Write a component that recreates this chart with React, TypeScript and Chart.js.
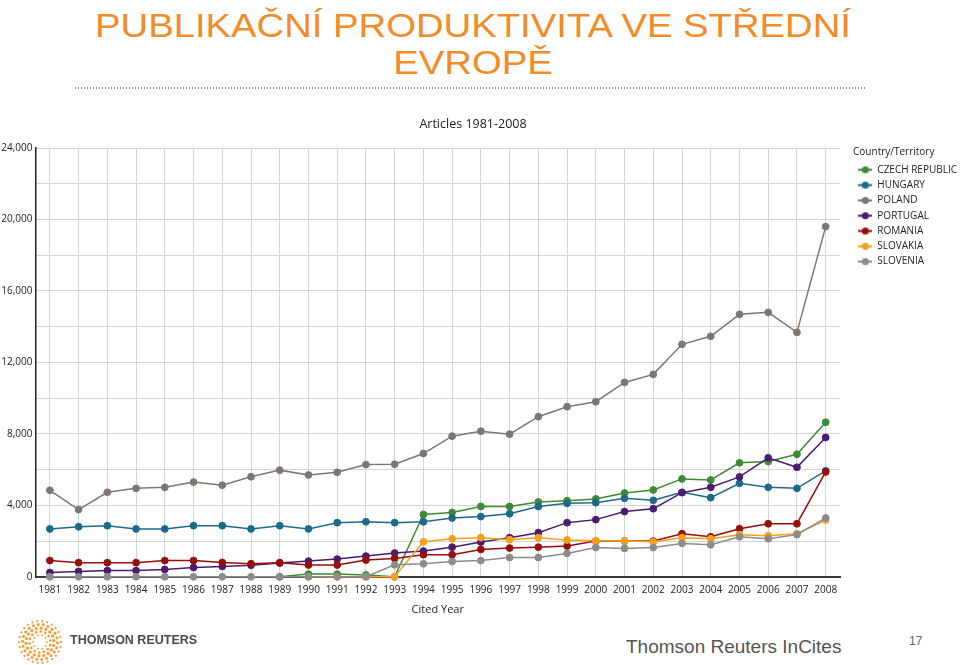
import React, { useEffect, useRef } from 'react';
import { Chart, registerables } from 'chart.js';

Chart.register(...registerables);

const YEARS = [
  '1981', '1982', '1983', '1984', '1985', '1986', '1987', '1988', '1989', '1990',
  '1991', '1992', '1993', '1994', '1995', '1996', '1997', '1998', '1999', '2000',
  '2001', '2002', '2003', '2004', '2005', '2006', '2007', '2008',
];

const CZECH_REPUBLIC = [
  null, null, null, null, null, null, null, null, 0, 150,
  150, 100, 0, 3490, 3600, 3940, 3940, 4190, 4260, 4360,
  4690, 4860, 5480, 5420, 6380, 6450, 6860, 8650,
];
const HUNGARY = [
  2680, 2800, 2860, 2680, 2680, 2860, 2860, 2680, 2860, 2680,
  3030, 3080, 3030, 3080, 3290, 3370, 3530, 3930, 4110, 4150,
  4390, 4280, 4730, 4430, 5230, 5010, 4950, 5930,
];
const POLAND = [
  4840, 3760, 4730, 4950, 5010, 5300, 5130, 5600, 5970, 5700,
  5850, 6280, 6300, 6900, 7870, 8150, 7980, 8960, 9520, 9800,
  10880, 11330, 13010, 13460, 14690, 14800, 13680, 19600,
];
const PORTUGAL = [
  240, 300, 350, 350, 410, 520, 580, 650, 770, 880,
  990, 1160, 1330, 1440, 1660, 1950, 2190, 2470, 3030, 3200,
  3650, 3810, 4710, 5010, 5590, 6660, 6130, 7800,
];
const ROMANIA = [
  910, 790, 790, 790, 910, 910, 800, 730, 790, 660,
  660, 940, 1030, 1240, 1240, 1530, 1610, 1660, 1720, 2000,
  2000, 2000, 2410, 2240, 2690, 2970, 2970, 5870,
];
const SLOVAKIA = [
  null, null, null, null, null, null, null, null, null, 0,
  0, 0, 0, 1960, 2130, 2190, 2080, 2190, 2060, 2020,
  2000, 1960, 2190, 2130, 2360, 2300, 2410, 3180,
];
const SLOVENIA = [
  0, 0, 0, 0, 0, 0, 0, 0, 0, 0,
  0, 0, 670, 730, 860, 910, 1080, 1080, 1310, 1640,
  1590, 1640, 1870, 1790, 2240, 2130, 2360, 3290,
];

const SERIES_LABELS = ['CZECH REPUBLIC', 'HUNGARY', 'POLAND', 'PORTUGAL', 'ROMANIA', 'SLOVAKIA', 'SLOVENIA'];
const SERIES_VALUES = [CZECH_REPUBLIC, HUNGARY, POLAND, PORTUGAL, ROMANIA, SLOVAKIA, SLOVENIA];
const SERIES_COLORS = ['#3d8b34', '#1c6a8b', '#7e7671', '#4a1b70', '#990d0d', '#f5a01c', '#8c8c8c'];

const Y_MAX = 24000;
const Y_GRID_STEP = 2000;
const Y_LABEL_STEP = 4000;

const FONT = "'Open Sans', sans-serif";

function makeMarker(color: string): HTMLCanvasElement {
  const c = document.createElement('canvas');
  c.width = 14;
  c.height = 9;
  const ctx = c.getContext('2d')!;
  ctx.strokeStyle = color;
  ctx.lineWidth = 2;
  ctx.beginPath();
  ctx.moveTo(0, 4.5);
  ctx.lineTo(14, 4.5);
  ctx.stroke();
  ctx.fillStyle = color;
  ctx.beginPath();
  ctx.arc(7, 4.5, 3.6, 0, Math.PI * 2);
  ctx.fill();
  return c;
}

function Logo() {
  const rings = [
    { r: 7, n: 10, s: 0.9 },
    { r: 10.5, n: 14, s: 1.3 },
    { r: 14, n: 18, s: 1.6 },
    { r: 17.5, n: 22, s: 1.5 },
    { r: 21, n: 26, s: 1.1 },
  ];
  const dots: any[] = [];
  rings.forEach((ring, ri) => {
    for (let k = 0; k < ring.n; k++) {
      const a = (k / ring.n) * Math.PI * 2 + ri * 0.3;
      dots.push(
        <circle key={ri + '-' + k} cx={24 + ring.r * Math.cos(a)} cy={24 + ring.r * Math.sin(a)} r={ring.s} fill="#f39a33" />
      );
    }
  });
  return (
    <svg width={48} height={48} style={{ position: 'absolute', left: 16, top: 618 }}>
      {dots}
    </svg>
  );
}

export default function App() {
  const canvasRef = useRef<HTMLCanvasElement | null>(null);

  useEffect(() => {
    const canvas = canvasRef.current;
    if (!canvas) return;
    const markers = SERIES_COLORS.map(makeMarker);
    const chart = new Chart(canvas, {
      type: 'line',
      data: {
        labels: YEARS,
        datasets: SERIES_LABELS.map((label, i) => ({
          label,
          data: SERIES_VALUES[i] as any,
          borderColor: SERIES_COLORS[i],
          backgroundColor: SERIES_COLORS[i],
          pointBackgroundColor: SERIES_COLORS[i],
          pointBorderColor: SERIES_COLORS[i],
          borderWidth: 1.5,
          pointRadius: 3.4,
          pointBorderWidth: 1,
          pointHoverRadius: 3.4,
          tension: 0,
          fill: false,
          clip: false,
          order: SERIES_LABELS.length - i,
          xAxisID: 'x',
          yAxisID: 'y',
        })),
      },
      options: {
        responsive: false,
        animation: false,
        devicePixelRatio: 1,
        events: [],
        layout: { padding: 0 },
        plugins: {
          title: {
            display: true,
            text: 'Articles 1981-2008',
            color: '#222',
            font: { family: FONT, size: 12.5, weight: 'normal' },
            padding: { top: 16.5, bottom: 16.5 },
          },
          legend: {
            display: true,
            position: 'right',
            align: 'start',
            title: {
              display: true,
              text: 'Country/Territory',
              position: 'start',
              color: '#222',
              font: { family: FONT, size: 10 },
              padding: { top: 47.5, bottom: 0 },
            },
            labels: {
              usePointStyle: true,
              pointStyleWidth: 14,
              boxHeight: 10,
              padding: 5.3,
              color: '#222',
              font: { family: FONT, size: 10 },
              generateLabels: (ch: any) =>
                ch.data.datasets.map((ds: any, i: number) => ({
                  text: ds.label,
                  fillStyle: SERIES_COLORS[i],
                  strokeStyle: SERIES_COLORS[i],
                  lineWidth: 0,
                  pointStyle: markers[i],
                  hidden: false,
                  datasetIndex: i,
                  fontColor: '#222',
                })),
            },
          },
          tooltip: { enabled: false },
        },
        scales: {
          x: {
            type: 'category',
            offset: true,
            grid: { display: true, color: '#d4d4d4', lineWidth: 1, drawTicks: false, offset: false },
            border: { display: true, color: '#3a3a3a', width: 2 },
            ticks: { color: '#222', font: { family: FONT, size: 10 }, padding: 7, maxRotation: 0, autoSkip: false },
            title: {
              display: true,
              text: 'Cited Year',
              color: '#222',
              font: { family: FONT, size: 11 },
              padding: { top: 0, bottom: 4 },
            },
          },
          y: {
            type: 'linear',
            position: 'left',
            min: 0,
            max: Y_MAX,
            grid: { color: '#d4d4d4', lineWidth: 1, drawTicks: false },
            border: { display: true, color: '#222', width: 1.5 },
            ticks: {
              stepSize: Y_GRID_STEP,
              padding: 3,
              color: '#222',
              font: { family: FONT, size: 10 },
              callback: (v: any) => (Number(v) % Y_LABEL_STEP === 0 ? Number(v).toLocaleString('en-US') : ''),
            },
            afterFit: (s: any) => {
              s.width = 56.5;
            },
          },
          yRight: {
            type: 'linear',
            position: 'right',
            display: true,
            grid: { display: false, drawTicks: false },
            border: { display: false },
            ticks: { display: false },
            afterFit: (s: any) => {
              s.width = 13;
            },
          },
        },
      } as any,
    });
    return () => chart.destroy();
  }, []);

  return (
    <div style={{ position: 'absolute', left: 0, top: 0, width: 960, height: 665, overflow: 'hidden', background: '#fff' }}>
      <div
        style={{
          position: 'absolute',
          left: 0,
          top: 7.2,
          width: 946,
          textAlign: 'center',
          fontFamily: "'Liberation Sans', Arial, sans-serif",
          fontSize: 34,
          lineHeight: '37px',
          color: '#f28c28',
          transform: 'scaleX(1.125)',
          transformOrigin: '473px 0',
          whiteSpace: 'nowrap',
        }}
      >
        PUBLIKAČNÍ PRODUKTIVITA VE STŘEDNÍ
        <br />
        EVROPĚ
      </div>
      <div
        style={{
          position: 'absolute',
          left: 75,
          top: 87,
          width: 791,
          height: 2,
          backgroundImage: 'repeating-linear-gradient(to right, #8a8a8a 0px, #8a8a8a 1.5px, transparent 1.5px, transparent 3px)',
        }}
      />
      <canvas
        ref={canvasRef}
        width={988}
        height={520}
        style={{ position: 'absolute', left: -21, top: 100, width: 988, height: 520 }}
      />
      <Logo />
      <div
        style={{
          position: 'absolute',
          left: 70,
          top: 633,
          fontFamily: "'Liberation Sans', Arial, sans-serif",
          fontWeight: 700,
          fontSize: 12.5,
          lineHeight: '15px',
          color: '#4a4a4a',
          whiteSpace: 'nowrap',
        }}
      >
        THOMSON REUTERS
      </div>
      <div
        style={{
          position: 'absolute',
          left: 626,
          top: 636.5,
          fontFamily: "'Liberation Sans', Arial, sans-serif",
          fontSize: 19,
          lineHeight: '19px',
          color: '#555',
          whiteSpace: 'nowrap',
        }}
      >
        Thomson Reuters InCites
      </div>
      <div
        style={{
          position: 'absolute',
          left: 909,
          top: 634,
          fontFamily: "'Liberation Sans', Arial, sans-serif",
          fontSize: 12,
          lineHeight: '14px',
          color: '#666',
        }}
      >
        17
      </div>
    </div>
  );
}
